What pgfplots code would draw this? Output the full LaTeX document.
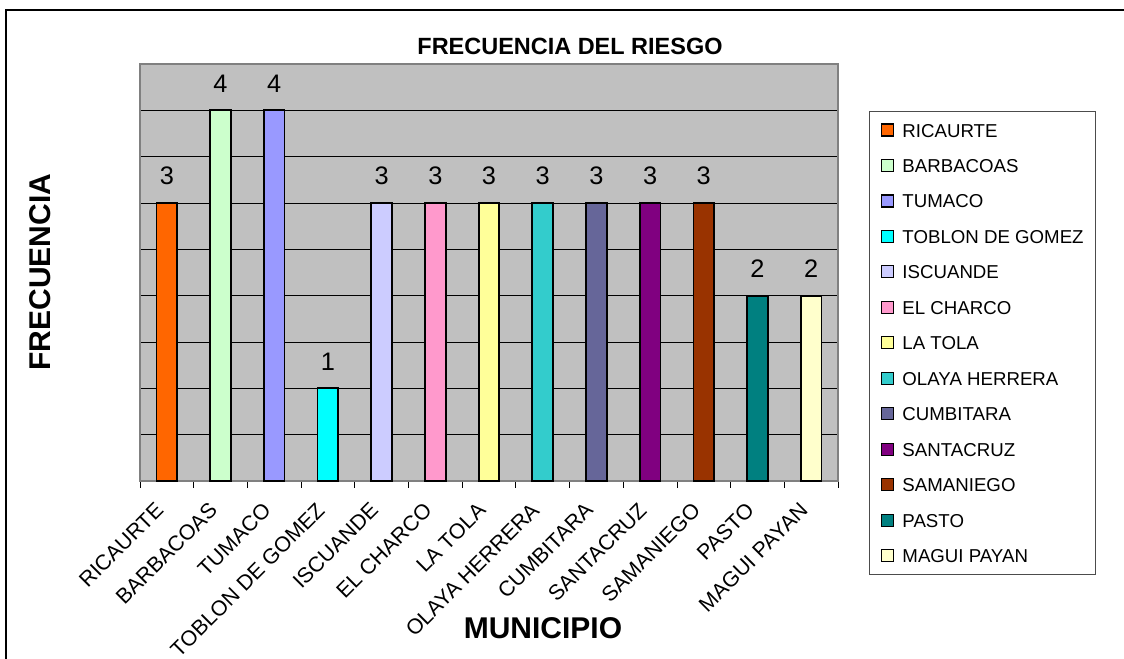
\documentclass[border=0pt]{standalone}
\usepackage{fontspec}
\setmainfont{Liberation Sans}
\usepackage{pgfplots}
\pgfplotsset{compat=1.18}

\definecolor{cRic}{HTML}{FF6600}
\definecolor{cBar}{HTML}{CCFFCC}
\definecolor{cTum}{HTML}{9999FF}
\definecolor{cTob}{HTML}{00FFFF}
\definecolor{cIsc}{HTML}{CCCCFF}
\definecolor{cCha}{HTML}{FF99CC}
\definecolor{cTol}{HTML}{FFFF99}
\definecolor{cOla}{HTML}{33CCCC}
\definecolor{cCum}{HTML}{666699}
\definecolor{cSan}{HTML}{800080}
\definecolor{cSam}{HTML}{993300}
\definecolor{cPas}{HTML}{008080}
\definecolor{cMag}{HTML}{FFFFCC}
\definecolor{plotbg}{HTML}{C0C0C0}
\definecolor{frame}{HTML}{808080}

\begin{document}
\begin{tikzpicture}
% picture laid out in reference pixels (y down)
\begin{scope}[x=0.75pt,y=-0.75pt]
  \useasboundingbox (0,0) rectangle (1124,650);
  \draw[line width=1.2pt] (6,10) rectangle (1132,662);
  \coordinate (O) at (140,481);
  \node[font=\bfseries\fontsize{17.6}{20}\selectfont] at (570,46) {FRECUENCIA DEL RIESGO};
  \node[font=\bfseries\fontsize{22.5}{26}\selectfont, rotate=90] at (40,272) {FRECUENCIA};
  \node[font=\bfseries\fontsize{22.5}{26}\selectfont] at (543,628) {MUNICIPIO};
\end{scope}
\begin{axis}[
  at={(O)}, anchor=south west,
  scale only axis,
  width=523.5pt, height=312.75pt,
  xmin=-0.5, xmax=12.5, ymin=0, ymax=4.5,
  axis background/.style={fill=plotbg},
  axis line style={draw=frame, line width=0.8pt},
  ytick={0,0.5,...,4}, yticklabels={},
  ymajorgrids,
  major grid style={black, line width=0.6pt},
  xtick={0,...,12},
  xticklabels={RICAURTE, BARBACOAS, TUMACO, TOBLON DE GOMEZ, ISCUANDE, EL CHARCO, LA TOLA, OLAYA HERRERA, CUMBITARA, SANTACRUZ, SAMANIEGO, PASTO, MAGUI PAYAN},
  minor xtick={-0.5,0.5,...,12.5},
  tick pos=left,
  major tick length=0pt,
  minor tick length=5pt,
  tick align=outside,
  tick style={black, line width=0.6pt},
  xticklabel style={font=\fontsize{16}{18}\selectfont, xshift=-9.5pt, yshift=-15pt, rotate=45, anchor=north east, inner sep=0pt},
  ybar,
  bar width=15.5pt,
  /pgf/number format/assume math mode=true,
  nodes near coords,
  every node near coord/.append style={font=\fontsize{19}{21}\selectfont, anchor=south, inner sep=0pt, yshift=13pt, black},
  legend style={
    at={(1.0444,0.8873)}, anchor=north west,
    draw=black!70, fill=white,
    font=\fontsize{14}{16}\selectfont,
    inner xsep=9pt, inner ysep=8.8pt,
    row sep=16.1pt,
    nodes={inner sep=0pt, text height=10.5pt, text depth=0pt},
    /tikz/every odd column/.append style={column sep=6pt},
  },
  legend cell align=left,
  legend image code/.code={\draw[#1, draw=black, line width=0.9pt] (0pt,-4.5pt) rectangle (9pt,4.5pt);},
  every axis plot/.append style={draw=black, line width=1.3pt, bar shift=0pt},
]
\addplot[fill=cRic] coordinates {(0,3)};
\addplot[fill=cBar] coordinates {(1,4)};
\addplot[fill=cTum] coordinates {(2,4)};
\addplot[fill=cTob] coordinates {(3,1)};
\addplot[fill=cIsc] coordinates {(4,3)};
\addplot[fill=cCha] coordinates {(5,3)};
\addplot[fill=cTol] coordinates {(6,3)};
\addplot[fill=cOla] coordinates {(7,3)};
\addplot[fill=cCum] coordinates {(8,3)};
\addplot[fill=cSan] coordinates {(9,3)};
\addplot[fill=cSam] coordinates {(10,3)};
\addplot[fill=cPas] coordinates {(11,2)};
\addplot[fill=cMag] coordinates {(12,2)};
\legend{RICAURTE, BARBACOAS, TUMACO, TOBLON DE GOMEZ, ISCUANDE, EL CHARCO, LA TOLA, OLAYA HERRERA, CUMBITARA, SANTACRUZ, SAMANIEGO, PASTO, MAGUI PAYAN}
\end{axis}
\end{tikzpicture}
\end{document}
